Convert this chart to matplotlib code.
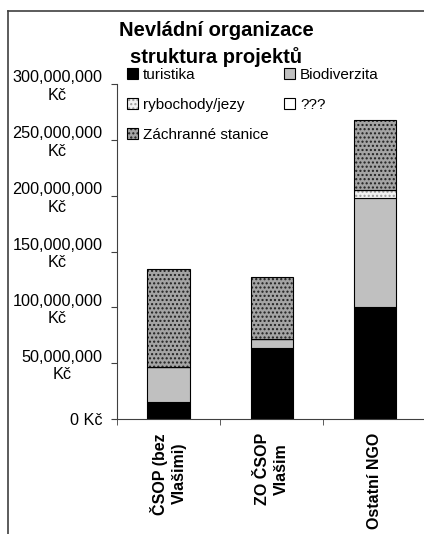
import matplotlib
matplotlib.use("Agg")
import matplotlib.pyplot as plt
from matplotlib.patches import Patch
from matplotlib.lines import Line2D

plt.rcParams['font.family'] = ['Liberation Sans', 'DejaVu Sans']

# data (Kč)
categories = ["ČSOP (bez\nVlašimi)", "ZO ČSOP\nVlašim", "Ostatní NGO"]
turistika = [15.5e6, 64e6, 100e6]
biodiverzita = [31e6, 8e6, 98e6]
rybochody = [0, 0, 7e6]
nezname = [0, 0, 0]
zachranne = [88e6, 55e6, 63e6]

series_names = ["turistika", "Biodiverzita", "rybochody/jezy", "???", "Záchranné stanice"]
series = [turistika, biodiverzita, rybochody, nezname, zachranne]
y_ticks = [0, 50e6, 100e6, 150e6, 200e6, 250e6, 300e6]

# fill, hatch, hatch colour
styles = [
    ("black", "", "black"),
    ("#c0c0c0", "", "#c0c0c0"),
    ("#f2f2f2", "....", "#9a9a9a"),
    ("white", "", "white"),
    ("#a4a4a4", "....", "#202020"),
]

fig = plt.figure(figsize=(4.24, 5.34), dpi=100)
ax = fig.add_axes([117 / 424, 1 - 419 / 534, 309.5 / 424, (419 - 84) / 534])

x = list(range(len(categories)))
bottom = [0.0] * len(categories)
handles = []
for name, vals, (fc, hatch, hc) in zip(series_names, series, styles):
    ax.bar(x, vals, 0.41, bottom=bottom, color=fc, hatch=hatch, edgecolor=hc, linewidth=0)
    ax.bar(x, vals, 0.41, bottom=bottom, fill=False, edgecolor="black", linewidth=0.8)
    bottom = [b + v for b, v in zip(bottom, vals)]
    handles.append((Patch(facecolor=fc, hatch=hatch, edgecolor=hc, linewidth=0),
                    Patch(fill=False, edgecolor="black", linewidth=0.8)))

ax.set_xlim(-0.5, 2.5)
ax.set_ylim(0, 300e6)
for s in ["top", "right"]:
    ax.spines[s].set_visible(False)
for s in ["left", "bottom"]:
    ax.spines[s].set_color("#404040")

ax.set_yticks(y_ticks)
ylabels = ["0 Kč"] + [f"{v:,.0f}\nKč" for v in y_ticks[1:]]
ax.set_yticklabels(ylabels, fontsize=11.7, multialignment="center")
ax.tick_params(axis="y", length=4, color="#404040", pad=6.5)

ax.set_xticks(x)
ax.set_xticklabels(categories, rotation=90, fontsize=11.5, fontweight="bold",
                   va="top", ha="center", multialignment="center", linespacing=1.3)
ax.tick_params(axis="x", which="major", length=0, pad=10)
ax.set_xticks([-0.5, 0.5, 1.5], minor=True)
ax.tick_params(axis="x", which="minor", length=4, color="#404040")

# legend, row-wise order like the original
order = [0, 2, 4, 1, 3]
leg = fig.legend([handles[i] for i in order], [series_names[i] for i in order],
                 ncol=2, loc="upper left", bbox_to_anchor=(127 / 424, 1 - 68 / 534),
                 frameon=False, fontsize=11, borderpad=0, borderaxespad=0,
                 handlelength=0.7, handleheight=0.7, handletextpad=0.35,
                 labelspacing=1.05, columnspacing=1.0)

fig.text(216 / 424, 1 - 30 / 534, "Nevládní organizace", ha="center", va="center",
         fontsize=14.5, fontweight="bold")
fig.text(216 / 424, 1 - 57 / 534, "struktura projektů", ha="center", va="center",
         fontsize=14.5, fontweight="bold")

# outer chart frame (only left and top visible)
fig.add_artist(Line2D([8 / 424, 8 / 424], [0, 1 - 11 / 534], color="#404040", lw=1.2))
fig.add_artist(Line2D([8 / 424, 1], [1 - 11 / 534, 1 - 11 / 534], color="#404040", lw=1.2))

fig.savefig("out.png", dpi=100)
